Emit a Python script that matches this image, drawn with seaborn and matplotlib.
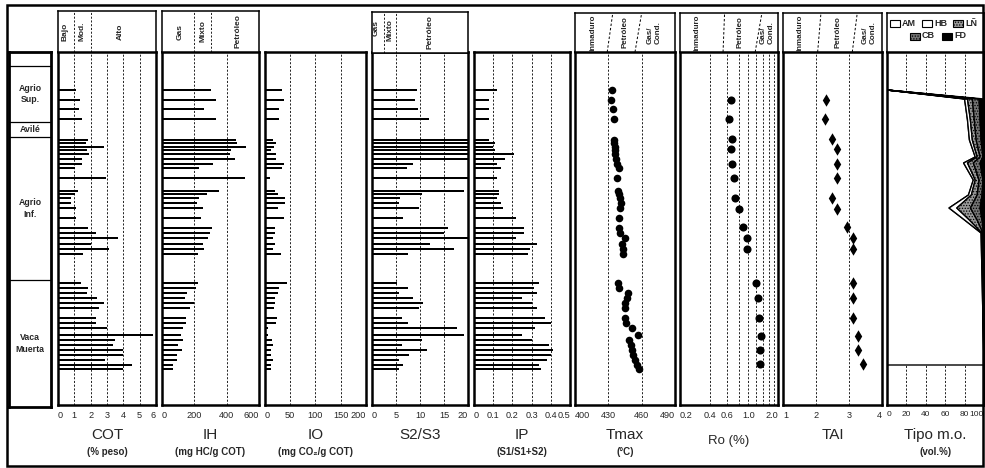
import numpy as np
import seaborn as sns
import matplotlib.pyplot as plt
from matplotlib.patches import Rectangle
from matplotlib.ticker import NullLocator, NullFormatter

sns.set_theme(style="white")
plt.rcParams['font.family'] = ['Liberation Sans', 'DejaVu Sans']
plt.rcParams['hatch.linewidth'] = 0.6

# profundidad relativa de las muestras (crece hacia abajo)
prof = [90, 100, 109, 119,
        140, 143, 147, 150, 154, 159, 164, 168, 178,
        191, 194, 198, 203, 208, 218, 228, 233, 238, 244, 249, 254,
        283, 288, 293, 298, 303, 308, 318, 323, 328, 335, 340, 345, 350, 355, 360, 365, 369]

cot = [1.1, 1.35, 1.3, 1.45,
       1.85, 1.7, 2.8, 1.8, 1.9, 1.45, 1.45, 1.05, 2.95,
       1.2, 1.05, 0.8, 0.8, 1.1, 1.1, 1.85, 2.3, 3.65, 2.05, 3.15, 1.5,
       1.4, 1.85, 1.8, 2.4, 2.8, 2.5, 2.35, 2.35, 3.0, 5.8, 3.5, 3.35, 4.0, 4.0, 2.9, 4.5, 4.0]

ih = [303, 334, 260, 334,
      458, 464, 520, 427, 420, 451, 315, 229, 513,
      353, 280, 229, 216, 252, 240, 308, 297, 286, 252, 260, 224,
      220, 210, 153, 142, 198, 173, 148, 148, 130, 117, 127, 101, 121, 95, 90, 70, 70]

io = [33, 37, 28, 28,
      16, 21, 18, 12, 21, 21, 37, 33, 10,
      20, 26, 40, 40, 26, 37, 20, 20, 16, 20, 16, 32,
      43, 28, 26, 20, 20, 18, 24, 22, 6, 6, 14, 16, 12, 12, 16, 12, 12]

s2s3 = [9.3, 8.9, 9.5, 11.8,
        22, 24, 22, 25, 23, 21, 8.5, 7.2, 24,
        19.2, 10.5, 5.8, 5.7, 9.7, 6.4, 15.9, 15.1, 24, 12, 17.1, 7.6,
        5.2, 7.6, 5.6, 8.5, 10.7, 9.7, 6.2, 7.4, 17.7, 19.2, 10.5, 6.2, 11.5, 7.8, 5.6, 6.4, 5.6]

ip = [0.12, 0.08, 0.08, 0.08,
      0.08, 0.11, 0.10, 0.11, 0.21, 0.16, 0.12, 0.14, 0.12,
      0.13, 0.13, 0.12, 0.14, 0.15, 0.22, 0.26, 0.26, 0.22, 0.33, 0.29, 0.28,
      0.34, 0.31, 0.33, 0.25, 0.30, 0.33, 0.37, 0.40, 0.32, 0.25, 0.30, 0.39, 0.41, 0.40, 0.38, 0.34, 0.35]

tmax = [433.3, 432.4, 434.2, 435.1,
        435, 435, 436, 436, 436, 437, 438, 439.6, 438,
        438.7, 439.6, 440.5, 441.4, 440.5, 439.6, 439.6, 440.5, 445, 442.3, 443.2, 443.2,
        438.7, 439.6, 447.7, 446.8, 445, 445, 445, 445.9, 451.3, 456.7, 448.6, 450.4, 451.3, 452.2, 454, 455.8, 457.6]

# Ro y TAI
mat_prof = [100, 119, 139, 149, 164, 178, 198, 209, 227, 238, 249, 283, 298, 318, 336, 350, 364]
ro = [0.66, 0.63, 0.68, 0.66, 0.68, 0.71, 0.73, 0.80, 0.88, 0.97, 0.97, 1.19, 1.25, 1.28, 1.34, 1.31, 1.31]
tai = [2.3, 2.27, 2.48, 2.64, 2.64, 2.64, 2.48, 2.64, 2.94, 3.12, 3.12, 3.12, 3.12, 3.12, 3.27, 3.27, 3.42]

# tipo de materia orgánica (vol.%)
mo_prof = [90, 99, 120, 140, 157, 163, 180, 195, 208, 220, 233, 365]
am = [0, 80, 83, 85, 91, 79, 89, 84, 64, 80, 97, 100]
hb = [0, 3, 3, 3, 2, 4, 2, 3, 8, 5, 1, 0]
ln = [0, 5, 4, 4, 3, 6, 4, 6, 14, 8, 1, 0]
cb = [0, 7, 6, 5, 3, 7, 4, 5, 10, 5, 1, 0]
fd = [0, 5, 4, 3, 1, 4, 1, 2, 4, 2, 0, 0]

formaciones = ["", "Agrio\nSup.", "Avilé", "Agrio\nInf.", "Vaca\nMuerta"]
limites = [52, 66, 122, 137, 280, 407]

W, H = 985, 468
TOP, BOT = 52, 405
fig = plt.figure(figsize=(W / 100, H / 100), dpi=100)


def caja(x0, x1, y0, y1):
    return fig.add_axes([x0 / W, 1 - y1 / H, (x1 - x0) / W, (y1 - y0) / H])


def marco(ax, lw=1.8):
    for s in ax.spines.values():
        s.set_visible(True)
        s.set_linewidth(lw)
        s.set_color('black')


def rejilla(ax, xs):
    for x in xs:
        ax.axvline(x, color='black', lw=0.6, ls=(0, (2.5, 2)), zorder=0.5)


def rot(ax, x, s, size=6.0, y=0.5):
    ax.text(x, y, s, rotation=90, ha='center', va='center', fontsize=size,
            weight='bold', multialignment='left')


def cabecera(x0, x1, y0, y1, lim, log=False):
    ax = caja(x0, x1, y0, y1)
    if log:
        ax.set_xscale('log')
    ax.set_xlim(lim)
    ax.set_ylim(0, 1)
    ax.set_xticks([])
    ax.set_yticks([])
    ax.xaxis.set_minor_locator(NullLocator())
    marco(ax, 1.1)
    return ax


# columna de formaciones
ax = caja(9, 51, 52, 407)
ax.set_xlim(0, 1)
ax.set_ylim(407, 52)
ax.set_xticks([])
ax.set_yticks([])
marco(ax, 2.0)
for y in limites[1:-1]:
    ax.axhline(y, color='black', lw=0.9)
for nom, a, b in zip(formaciones, limites[:-1], limites[1:]):
    ax.text(0.5, (a + b) / 2, nom, ha='center', va='center', fontsize=6.3,
            weight='bold', linespacing=1.3)

paneles = [
    (58, 156, (0, 6), [0, 1, 2, 3, 4, 5, 6], None, [1, 2, 3, 4, 5], cot, 'COT', '(% peso)'),
    (162, 259, (0, 600), [0, 200, 400, 600], None, [200, 400], ih, 'IH', '(mg HC/g COT)'),
    (265, 366, (0, 200), [0, 50, 100, 150, 200], None, [50, 100, 150], io, 'IO', '(mg CO₂/g COT)'),
    (372, 468, (0, 20), [0, 5, 10, 15, 20], None, [5, 10, 15], s2s3, 'S2/S3', ''),
    (474, 570, (0, 0.5), [0, 0.1, 0.2, 0.3, 0.4, 0.5], ['0', '0.1', '0.2', '0.3', '0.4', '0.5'],
     [0.1, 0.2, 0.3, 0.4], ip, 'IP', '(S1/S1+S2)'),
    (575, 675, (400, 490), [400, 430, 460, 490], None, [430, 460], tmax, 'Tmax', '(°C)'),
    (680, 778, (0.2, 2.0), [0.2, 0.4, 0.6, 1.0, 2.0], ['0.2', '0.4', '0.6', '1.0', '2.0'],
     [0.4, 0.6, 0.8, 1.0, 1.2, 1.4, 1.6, 1.8], ro, 'Ro (%)', ''),
    (783, 882, (1, 4), [1, 2, 3, 4], None, [2, 3], tai, 'TAI', ''),
    (887, 984, (0, 100), [0, 20, 40, 60, 80, 100], None, [20, 40, 60, 80], None, 'Tipo m.o.', '(vol.%)'),
]

for i, (x0, x1, lim, ticks, labs, grid, datos, tit, uni) in enumerate(paneles):
    ax = caja(x0, x1, TOP, BOT)
    if tit.startswith('Ro'):
        ax.set_xscale('log')
    rejilla(ax, grid)
    if i <= 4:
        ax.barh(prof, datos, height=1.8, color='black', linewidth=0, zorder=2)
    elif i == 5:
        sns.scatterplot(x=datos, y=prof, ax=ax, color='black', s=30, linewidth=0, zorder=3)
    elif i == 6:
        sns.scatterplot(x=datos, y=mat_prof, ax=ax, color='black', s=34, linewidth=0, zorder=3)
    elif i == 7:
        sns.scatterplot(x=datos, y=mat_prof, ax=ax, color='black', marker='d', s=40,
                        linewidth=0, zorder=3)
    else:
        capas = np.cumsum([am, hb, ln, cb, fd], axis=0)
        abajo = np.zeros(len(mo_prof))
        estilos = [('white', ''), ('white', ''), ('0.6', '......'), ('0.45', '......'), ('black', '')]
        for arriba, (fc, ht) in zip(capas, estilos):
            ax.fill_betweenx(mo_prof, abajo, arriba, facecolor=fc, hatch=ht,
                             edgecolor='black', lw=1.0, zorder=2)
            abajo = arriba
    ax.set_xlim(lim)
    ax.set_ylim(BOT, TOP)
    ax.set_xlabel('')
    ax.set_ylabel('')
    ax.set_yticks([])
    ax.xaxis.set_minor_locator(NullLocator())
    ax.xaxis.set_minor_formatter(NullFormatter())
    ax.set_xticks(ticks)
    ax.set_xticklabels(labs if labs else [str(t) for t in ticks])
    ax.tick_params(axis='x', length=0, pad=4, labelsize=6 if i == 8 else 6.6)
    tl = ax.get_xticklabels()
    tl[0].set_ha('left')
    tl[-1].set_ha('right')
    marco(ax)
    xc = (x0 + x1) / 2 / W
    if tit.startswith('Ro'):
        fig.text(xc, 1 - 441 / H, tit, ha='center', va='center', fontsize=9.5)
    else:
        fig.text(xc, 1 - 435 / H, tit, ha='center', va='center', fontsize=11)
    if uni:
        fig.text(xc, 1 - 452 / H, uni, ha='center', va='center', fontsize=7, weight='bold')

# cabeceras
hc = cabecera(58, 156, 11, 52, (0, 6))
rejilla(hc, [1, 2])
rot(hc, 0.45, 'Bajo')
rot(hc, 1.5, 'Mod.')
rot(hc, 3.8, 'Alto')

hc = cabecera(162, 259, 11, 52, (0, 600))
rejilla(hc, [200, 300])
rot(hc, 110, 'Gas')
rot(hc, 255, 'Mixto')
rot(hc, 470, 'Petróleo')

hc = cabecera(372, 468, 12, 53, (0, 20))
rejilla(hc, [2.5, 5])
rot(hc, 0.8, 'Gas', y=0.6)
rot(hc, 3.7, 'Mixto', y=0.55)
rot(hc, 12, 'Petróleo')

for x0, x1, lim, log, l1, l2, pos in [
        (575, 675, (400, 490), False, (429, 434), (454, 460), (416, 445, 471)),
        (680, 778, (0.2, 2.0), True, (0.55, 0.57), (1.17, 1.37), (0.30, 0.82, 1.55)),
        (783, 882, (1, 4), False, (2.05, 2.15), (3.1, 3.25), (1.5, 2.67, 3.6))]:
    hc = cabecera(x0, x1, 13, 52, lim, log)
    for a, b in (l1, l2):
        hc.plot([a, b], [0, 1], color='black', lw=0.7, ls=(0, (2.5, 2)))
    rot(hc, pos[0], 'Inmaduro', size=5.8)
    rot(hc, pos[1], 'Petróleo', size=5.8)
    rot(hc, pos[2], 'Gas/\nCond.', size=5.8)

# leyenda del tipo de materia orgánica
hc = cabecera(887, 984, 13, 52, (887, 984))
hc.set_ylim(52, 13)
leyenda = [(890, 23, 'AM', 'white', ''), (922, 23, 'HB', 'white', ''),
           (953, 23, 'LÑ', '0.6', '......'), (910, 36, 'CB', '0.45', '......'),
           (942, 36, 'FD', 'black', '')]
for x, y, nom, fc, ht in leyenda:
    hc.add_patch(Rectangle((x, y - 3.5), 10, 7, facecolor=fc, edgecolor='black',
                           hatch=ht, lw=0.8))
    hc.text(x + 12, y, nom, ha='left', va='center', fontsize=6.5, weight='bold')

# marco exterior
fig.add_artist(Rectangle((7 / W, 1 - 466 / H), 976 / W, 461 / H, transform=fig.transFigure,
                         fill=False, lw=1.8, ec='black'))

fig.savefig('out.png', dpi=100)
